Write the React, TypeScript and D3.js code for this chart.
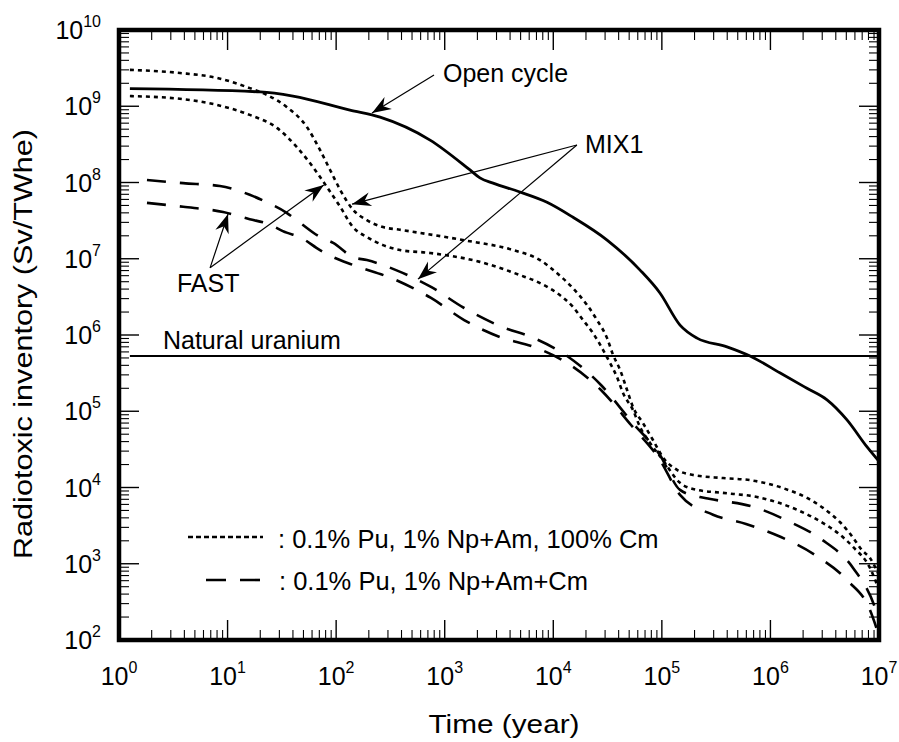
import React from "react";
import * as d3 from "d3";

// Radiotoxic inventory of spent fuel / HLW vs. time after discharge.
// Time in years, inventory in Sv per TWhe.

const openCycleYears = [1.26, 20, 40, 134, 254, 733, 1710, 2110, 2790, 4930, 8750, 15200, 31300, 63000, 96000, 147000, 211000, 398000, 649000, 1.22e6, 2.17e6, 3.32e6, 5.07e6, 7.76e6, 1e7];
const openCycleValues = [1.7e9, 1.54e9, 1.36e9, 8.9e8, 7.2e8, 3.6e8, 1.46e8, 1.15e8, 9.8e7, 7.5e7, 5.5e7, 3.5e7, 1.76e7, 7.1e6, 3.56e6, 1.35e6, 9.1e5, 7.0e5, 5.3e5, 3.2e5, 2.0e5, 1.41e5, 7.7e4, 3.4e4, 2.2e4];

// 0.1% Pu, 1% Np+Am, 100% Cm
const mix1DottedYears = [1.26, 3.65, 8.0, 16, 23, 35, 54, 71, 88, 109, 143, 192, 270, 387, 1470, 4260, 7550, 10800, 15200, 20500, 25300, 31300, 35500, 41200, 47800, 54200, 67000, 82800, 102000, 138000, 194000, 366000, 649000, 1.31e6, 2.17e6, 3.05e6, 4.38e6, 5.77e6, 6.97e6, 8.26e6, 1e7];
const mix1DottedValues = [3.0e9, 2.73e9, 2.35e9, 1.73e9, 1.41e9, 9.8e8, 5.3e8, 2.67e8, 1.46e8, 8.0e7, 4.4e7, 3.2e7, 2.6e7, 2.4e7, 1.76e7, 1.3e7, 9.6e6, 6.5e6, 4.1e6, 2.47e6, 1.57e6, 9.1e5, 5.5e5, 3.5e5, 1.9e5, 1.14e5, 7.0e4, 4.2e4, 2.5e4, 1.7e4, 1.46e4, 1.33e4, 1.25e4, 9.8e3, 7.3e3, 5.4e3, 3.5e3, 2.2e3, 1.51e3, 1.19e3, 711];

const fastDottedYears = [1.26, 3.9, 8.0, 16, 28.5, 43.6, 57.4, 82.4, 109, 143, 192, 270, 387, 733, 2110, 4930, 7550, 10800, 15200, 18800, 23200, 28700, 33300, 38600, 43900, 54200, 63000, 77800, 102000, 147000, 211000, 366000, 752000, 1.76e6, 3.05e6, 4.38e6, 5.77e6, 8.26e6, 1e7];
const fastDottedValues = [1.36e9, 1.24e9, 1.04e9, 7.7e8, 5.2e8, 2.9e8, 1.8e8, 8.7e7, 4.8e7, 2.6e7, 1.93e7, 1.51e7, 1.3e7, 1.19e7, 9.1e6, 6.1e6, 4.8e6, 3.56e6, 2.33e6, 1.57e6, 1.06e6, 6.4e5, 4.3e5, 2.81e5, 1.73e5, 1.04e5, 6.2e4, 3.84e4, 2.3e4, 1.15e4, 9.3e3, 8.5e3, 7.5e3, 5.1e3, 3.42e3, 2.4e3, 1.66e3, 880, 453];

// 0.1% Pu, 1% Np+Am+Cm
const mix1DashedYears = [1.81, 3.9, 8.5, 16, 23, 35, 46, 71, 94, 143, 192, 356, 748, 1510, 3230, 6640, 13400, 27500, 52000, 96000, 147000, 224000, 272000, 721000, 1.45e6, 2.92e6, 5.77e6, 9.0e6, 1e7];
const mix1DashedValues = [1.08e8, 9.8e7, 9.0e7, 6.9e7, 5.5e7, 4.0e7, 3.0e7, 1.93e7, 1.61e7, 1.05e7, 9.6e6, 7.1e6, 4.27e6, 2.26e6, 1.31e6, 9.1e5, 5.3e5, 2.21e5, 7.45e4, 2.67e4, 9.3e3, 7.5e3, 7.1e3, 5.5e3, 3.64e3, 2.11e3, 880, 288, 183];

const fastDashedYears = [1.81, 3.9, 9.1, 16, 23, 35, 46, 71, 94, 143, 356, 748, 1510, 3230, 6640, 13400, 27500, 52000, 96000, 147000, 296000, 596000, 1.25e6, 2.58e6, 5.18e6, 8.26e6, 1e7];
const fastDashedValues = [5.4e7, 4.8e7, 4.1e7, 3.3e7, 2.9e7, 2.2e7, 1.93e7, 1.3e7, 1.05e7, 8.3e6, 5.26e6, 3.06e6, 1.57e6, 9.4e5, 6.97e5, 4.3e5, 1.9e5, 6.6e4, 2.3e4, 8.0e3, 4.4e3, 3.32e3, 2.24e3, 1.3e3, 594, 247, 113];

const naturalUranium = 5.3e5;

const xTickExponents = [0, 1, 2, 3, 4, 5, 6, 7];
const yTickExponents = [2, 3, 4, 5, 6, 7, 8, 9, 10];

const legendLabels = [": 0.1% Pu, 1% Np+Am, 100% Cm", ": 0.1% Pu, 1% Np+Am+Cm"];

// Callouts: label anchor and arrows, in (year, Sv/TWhe)
const callouts = [
  { text: "Open cycle", at: [964, 2.08e9], from: [797, 2.57e9], to: [[214, 8.15e8]] },
  { text: "MIX1", at: [19600, 2.44e8], from: [16500, 3.1e8], to: [[140, 5.2e7], [567, 5.4e6]] },
  { text: "FAST", at: [3.42, 3.66e6], from: [6.9, 7.6e6], to: [[10.1, 3.86e7], [77, 9.3e7]] },
];

const FONT = "'Liberation Sans', Arial, Helvetica, sans-serif";

type Pt = { t: number; v: number };
const zipSeries = (ts: number[], vs: number[]): Pt[] => ts.map((t, i) => ({ t, v: vs[i] }));

export default function App() {
  const left = 119, right = 879, top = 30, bottom = 640;
  const x = d3.scaleLog().domain([1, 1e7]).range([left, right]);
  const y = d3.scaleLog().domain([1e2, 1e10]).range([bottom, top]);

  const line = d3
    .line<Pt>()
    .x((d) => x(d.t))
    .y((d) => y(d.v))
    .curve(d3.curveMonotoneX);

  const series = [
    { data: zipSeries(openCycleYears, openCycleValues), dash: null, width: 2.8 },
    { data: zipSeries(mix1DottedYears, mix1DottedValues), dash: "4,4", width: 2.6 },
    { data: zipSeries(fastDottedYears, fastDottedValues), dash: "4,4", width: 2.6 },
    { data: zipSeries(mix1DashedYears, mix1DashedValues), dash: "19,14", width: 2.6 },
    { data: zipSeries(fastDashedYears, fastDashedValues), dash: "19,14", width: 2.6 },
  ];

  // minor + major ticks
  const xTicks: { p: number; major: boolean }[] = [];
  for (let e = 0; e < 7; e++) {
    for (let k = 1; k < 10; k++) xTicks.push({ p: x(k * Math.pow(10, e)), major: k === 1 });
  }
  xTicks.push({ p: x(1e7), major: true });
  const yTicks: { p: number; major: boolean }[] = [];
  for (let e = 2; e < 10; e++) {
    for (let k = 1; k < 10; k++) yTicks.push({ p: y(k * Math.pow(10, e)), major: k === 1 });
  }
  yTicks.push({ p: y(1e10), major: true });

  const majorLen = 20, minorLen = 10;

  const arrowHead = (sx: number, sy: number, tx: number, ty: number, key: string) => {
    const a = (Math.atan2(ty - sy, tx - sx) * 180) / Math.PI;
    return (
      <polygon
        key={key}
        points="0,0 -19,-7 -13,0 -19,7"
        fill="#000"
        transform={`translate(${tx},${ty}) rotate(${a})`}
      />
    );
  };

  return (
    <svg
      width={899}
      height={742}
      style={{ position: "absolute", left: 0, top: 0, background: "#fff" }}
      fontFamily={FONT}
    >
      <defs>
        <clipPath id="plotArea">
          <rect x={left} y={top} width={right - left} height={bottom - top} />
        </clipPath>
      </defs>
      <rect x={0} y={0} width={899} height={742} fill="#fff" />

      {/* ticks */}
      <g stroke="#000">
        {xTicks.map((t, i) => (
          <g key={"xt" + i} strokeWidth={t.major ? 1.4 : 1.1}>
            <line x1={t.p} x2={t.p} y1={bottom} y2={bottom - (t.major ? majorLen : minorLen)} />
            <line x1={t.p} x2={t.p} y1={top} y2={top + (t.major ? majorLen : minorLen)} />
          </g>
        ))}
        {yTicks.map((t, i) => (
          <g key={"yt" + i} strokeWidth={t.major ? 1.4 : 1.1}>
            <line y1={t.p} y2={t.p} x1={left} x2={left + (t.major ? majorLen : minorLen)} />
            <line y1={t.p} y2={t.p} x1={right} x2={right - (t.major ? majorLen : minorLen)} />
          </g>
        ))}
      </g>

      {/* natural uranium reference */}
      <line
        x1={x(1.26)}
        x2={x(1e7)}
        y1={y(naturalUranium)}
        y2={y(naturalUranium)}
        stroke="#000"
        strokeWidth={2}
      />
      <text x={x(2.54)} y={y(naturalUranium) - 7} fontSize={25}>
        Natural uranium
      </text>

      {/* curves */}
      <g clipPath="url(#plotArea)" fill="none" stroke="#000">
        {series.map((s, i) => (
          <path
            key={"s" + i}
            d={line(s.data) || ""}
            strokeWidth={s.width}
            strokeDasharray={s.dash || undefined}
            strokeLinejoin="round"
          />
        ))}
      </g>

      {/* callouts */}
      {callouts.map((c, i) => {
        const sx = x(c.from[0]);
        const sy = y(c.from[1]);
        return (
          <g key={"c" + i}>
            <text x={x(c.at[0])} y={y(c.at[1])} fontSize={25}>
              {c.text}
            </text>
            {c.to.map((p, j) => {
              const tx = x(p[0]);
              const ty = y(p[1]);
              return (
                <g key={"a" + j}>
                  <line x1={sx} y1={sy} x2={tx} y2={ty} stroke="#000" strokeWidth={1.2} />
                  {arrowHead(sx, sy, tx, ty, "h" + j)}
                </g>
              );
            })}
          </g>
        );
      })}

      {/* legend */}
      <line x1={188} x2={263} y1={537} y2={537} stroke="#000" strokeWidth={2.6} strokeDasharray="5,3" />
      <text x={278} y={548} fontSize={25.5}>
        {legendLabels[0]}
      </text>
      <line x1={206} x2={260} y1={580} y2={580} stroke="#000" strokeWidth={2.6} strokeDasharray="20,14" />
      <text x={279} y={590} fontSize={25.5}>
        {legendLabels[1]}
      </text>

      {/* frame */}
      <rect
        x={left}
        y={top}
        width={right - left}
        height={bottom - top}
        fill="none"
        stroke="#000"
        strokeWidth={4.5}
      />

      {/* tick labels */}
      {xTickExponents.map((e) => (
        <text key={"xl" + e} x={x(Math.pow(10, e))} y={685} fontSize={25} textAnchor="middle">
          10
          <tspan dy={-12} fontSize={16}>
            {e}
          </tspan>
        </text>
      ))}
      {yTickExponents.map((e) => (
        <text key={"yl" + e} x={101} y={y(Math.pow(10, e)) + 9} fontSize={25} textAnchor="end">
          10
          <tspan dy={-12} fontSize={16}>
            {e}
          </tspan>
        </text>
      ))}

      {/* axis titles */}
      <text x={504} y={733} fontSize={25} textAnchor="middle" textLength={151} lengthAdjust="spacingAndGlyphs">
        Time (year)
      </text>
      <text
        transform="translate(32,344) rotate(-90)"
        fontSize={25}
        textAnchor="middle"
        textLength={430}
        lengthAdjust="spacingAndGlyphs"
      >
        Radiotoxic inventory (Sv/TWhe)
      </text>
    </svg>
  );
}
